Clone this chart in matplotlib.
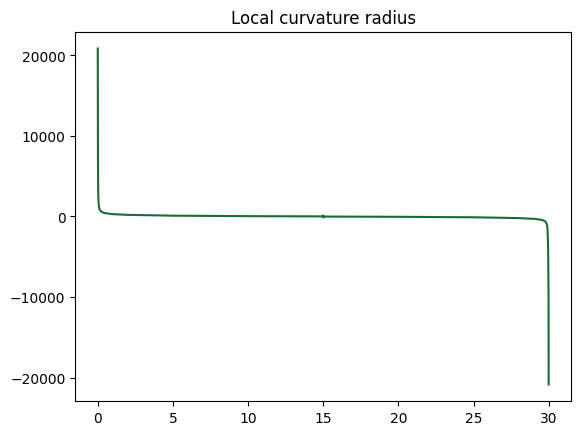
import numpy as np
import matplotlib.pyplot as plt

# values
s = [0.0, 0.01, 0.02, 0.03, 0.05, 0.08, 0.12, 0.2, 0.4, 0.9, 2.0, 5.0, 10.0, 14.9, 14.999,
     15.001, 15.1, 20.0, 25.0, 28.0, 29.1, 29.6, 29.8, 29.88, 29.92, 29.95, 29.97, 29.98,
     29.99, 30.0]
radius = [20860, 10000, 5000, 3000, 1800, 1200, 900, 650, 450, 300, 200, 100, 40, 10, 130,
          -130, -10, -40, -100, -200, -300, -450, -650, -1000, -1500, -3000, -5000, -7500,
          -10000, -20860]

fig, ax = plt.subplots(figsize=(6.4, 4.8), dpi=100)
ax.plot(s, radius, color='#176d37', lw=1.5)
ax.set_title('Local curvature radius')

fig.savefig('out.png', bbox_inches='tight')
